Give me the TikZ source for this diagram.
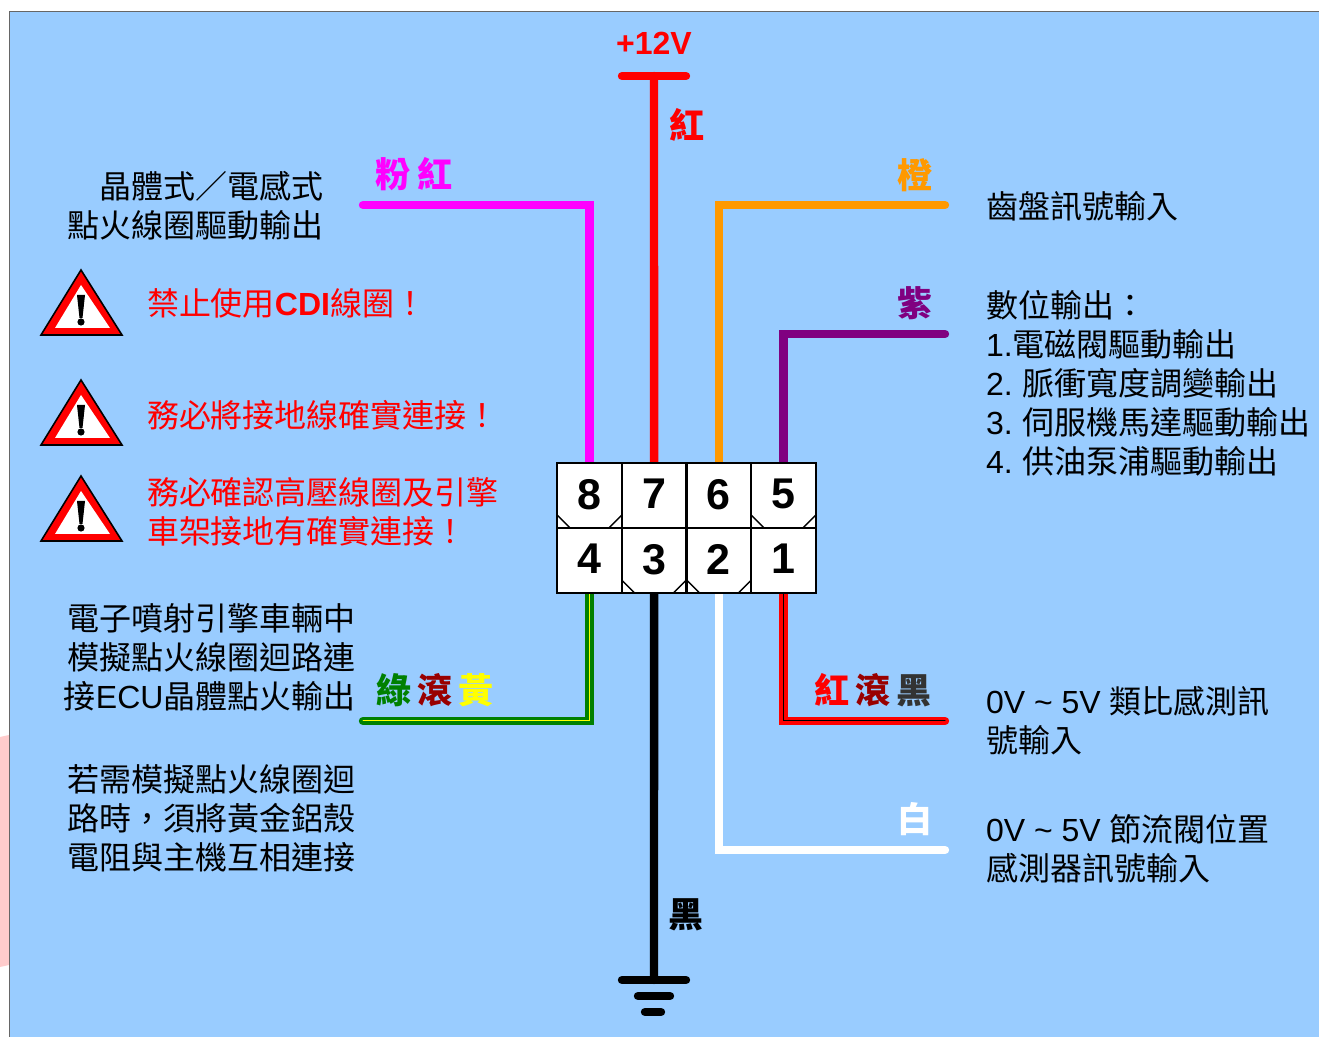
\documentclass[tikz,border=0pt]{standalone}
\usepackage{fontspec}
\usepackage{tkz-euclide}
\usetikzlibrary{backgrounds}
\setmainfont{Noto Sans CJK TC}
\newfontfamily\latinFont{Liberation Sans}
\newcommand{\lat}[1]{{\latinFont #1}}
\definecolor{panelBlue}{HTML}{99CCFF}
\definecolor{stripPink}{HTML}{FFCCCC}
\definecolor{wireMagenta}{HTML}{FF00FF}
\definecolor{wireRed}{HTML}{FF0000}
\definecolor{wireYellow}{HTML}{FFFF00}
\definecolor{wireOrange}{HTML}{FF9900}
\definecolor{wirePurple}{HTML}{800080}
\definecolor{wireGreen}{HTML}{008000}
\definecolor{rollRed}{HTML}{990000}
\definecolor{rollBlack}{HTML}{333333}
\tikzset{
  wire/.style={line width=4.2pt,line cap=round,line join=miter},
  wireRoll/.style={line width=1.85pt,double distance=0.5pt,line cap=round,line join=miter},
  pinCell/.style={draw,fill=white,line width=1.1pt,minimum width=32.375pt,minimum height=32.5pt,
    inner sep=0pt,outer sep=0pt,text depth=1.5pt,font=\latinFont\bfseries\fontsize{21.5}{24}\selectfont},
  wireLabel/.style={inner sep=0pt,font=\bfseries\fontsize{17.5}{20}\selectfont},
  note/.style={inner sep=0pt,outer sep=0pt,font=\fontsize{16}{19.5}\selectfont},
  noteL/.style={note,anchor=west,align=left},
  noteR/.style={note,anchor=east,align=right},
}
\newcommand{\myWarnSign}[1]{
\begin{scope}[shift={(0,#1)}]
  \filldraw[fill=wireRed,draw=black,line width=0.8pt] (81,0) -- (122,65) -- (41,65) -- cycle;
  \fill[white] (81,15) -- (110,58) -- (55,58) -- cycle;
  \fill[black] (77,25) -- (85,25) -- (82.5,48) -- (79.5,48) -- cycle;
  \fill[black] (81,52) circle (1.8pt);
\end{scope}
}

\begin{document}
\begin{tikzpicture}[x=0.5pt,y=-0.5pt]
	\useasboundingbox (0,0) rectangle (1319,1037);
	%% connector
	\node[pinCell] (p8) at (589.4,495.5) {8};
	\node[pinCell] (p7) at (654.1,495.5) {7};
	\node[pinCell] (p6) at (718.9,495.5) {6};
	\node[pinCell] (p5) at (783.6,495.5) {5};
	\node[pinCell] (p4) at (589.4,560.5) {4};
	\node[pinCell] (p3) at (654.1,560.5) {3};
	\node[pinCell] (p2) at (718.9,560.5) {2};
	\node[pinCell] (p1) at (783.6,560.5) {1};
	\foreach \cell in {p8,p5,p3,p2}{
		\draw[line width=0.7pt] ([yshift=6.5pt]\cell.south west) -- ([xshift=6.5pt]\cell.south west);
		\draw[line width=0.7pt] ([yshift=6.5pt]\cell.south east) -- ([xshift=-6.5pt]\cell.south east);
	}
	%% wire ends
	\tkzDefPoints{363/205/M, 945/205/O, 945/334/U, 654/76/R, 363/721/G, 945/721/K, 945/850/W, 654/980/B}
	\tkzDefPoints{622/76/R1, 686/76/R2, 622/980/E1, 686/980/E2, 638/996/E3, 670/996/E4, 645/1012/E5, 661/1012/E6}
	\begin{pgfonlayer}{background}
		%% panel
		\fill[stripPink] (0,737) -- (9,735) -- (9,965) -- (0,967) -- cycle;
		\fill[panelBlue] (9,12) rectangle (1319,1037);
		\draw[black!60,line width=0.5pt] (9,1037) -- (9,12) -- (1319,12);
		%% wires
		\draw[wire,wireMagenta] (M) -| (p8);
		\draw[wire,wireRed] (R) -- (p7);
		\draw[wire,wireOrange] (O) -| (p6);
		\draw[wire,wirePurple] (U) -| (p5);
		\draw[wireRoll,wireGreen,double=wireYellow] (G) -| (p4);
		\draw[wire,black] (B) -- (p3);
		\draw[wire,white] (W) -| (p2);
		\draw[wireRoll,wireRed,double=black] (K) -| (p1);
	\end{pgfonlayer}
	\tkzDrawSegments[wire,wireRed](R1,R2)
	\tkzDrawSegments[wire,black](E1,E2 E3,E4 E5,E6)
	%% wire names
	\node[inner sep=0pt,text=wireRed,font=\latinFont\bfseries\fontsize{16}{19}\selectfont] (lbV) at (654,43) {+12V};
	\node[wireLabel,text=wireRed] (lbR) at (687,125) {紅};
	\node[wireLabel,text=black] (lbB) at (686,915) {黑};
	\node[wireLabel,text=wireMagenta] (lbM) at (414,174) {粉\hspace{4pt}紅};
	\node[wireLabel,text=wireOrange] (lbO) at (915,175) {橙};
	\node[wireLabel,text=wirePurple] (lbU) at (915,303) {紫};
	\node[wireLabel,text=white] (lbW) at (915,819) {白};
	\node[wireLabel] (lbG) at (435,690) {\textcolor{wireGreen}{綠}\hspace{3pt}\textcolor{rollRed}{滾}\hspace{3pt}\textcolor{wireYellow}{黃}};
	\node[wireLabel] (lbK) at (873,690) {\textcolor{wireRed}{紅}\hspace{3pt}\textcolor{rollRed}{滾}\hspace{3pt}\textcolor{rollBlack}{黑}};
	%% warnings
	\myWarnSign{270}
	\myWarnSign{380}
	\myWarnSign{476}
	\node[noteL,text=wireRed] (wn1) at (147,303) {禁止使用\textbf{\lat{CDI}}線圈！};
	\node[noteL,text=wireRed] (wn2) at (147,415) {務必將接地線確實連接！};
	\node[noteL,text=wireRed] (wn3) at (147,512) {務必確認高壓線圈及引擎\\車架接地有確實連接！};
	%% left notes
	\node[noteR] (nt1) at (323.5,206) {晶體式／電感式\\點火線圈驅動輸出};
	\node[noteR] (nt2) at (355.5,657) {電子噴射引擎車輛中\\模擬點火線圈迴路連\\接\lat{ECU}晶體點火輸出};
	\node[noteR] (nt3) at (355.5,818) {若需模擬點火線圈迴\\路時，須將黃金鋁殼\\電阻與主機互相連接};
	%% right notes
	\node[noteL] (nt4) at (986,206) {齒盤訊號輸入};
	\node[noteL] (nt5) at (986,383) {數位輸出：\\\lat{1.}電磁閥驅動輸出\\\lat{2.}\hspace{5pt}脈衝寬度調變輸出\\\lat{3.}\hspace{5pt}伺服機馬達驅動輸出\\\lat{4.}\hspace{5pt}供油泵浦驅動輸出};
	\node[noteL] (nt6) at (986,721) {\lat{0V \textasciitilde{} 5V }類比感測訊\\號輸入};
	\node[noteL] (nt7) at (986,849) {\lat{0V \textasciitilde{} 5V }節流閥位置\\感測器訊號輸入};
\end{tikzpicture}
\end{document}
